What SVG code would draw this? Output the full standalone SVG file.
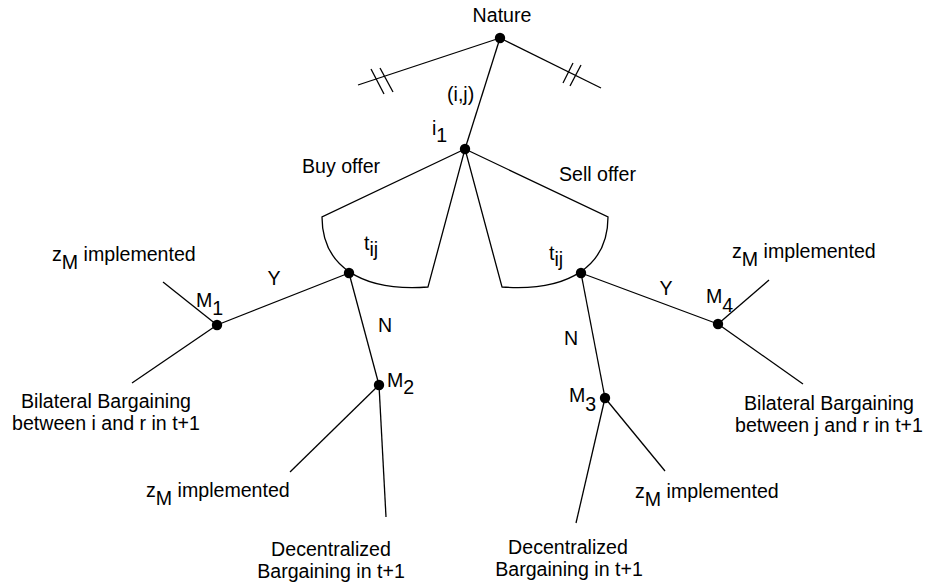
<svg xmlns="http://www.w3.org/2000/svg" width="927" height="584" viewBox="0 0 927 584">
<style>
  .ln { stroke: #000; stroke-width: 1.3; fill: none; }
  .dot { fill: #000; }
  text { font-family: "Liberation Sans", Arial, Helvetica, sans-serif; font-size: 19.6px; fill: #000; }
  .mid { text-anchor: middle; }
</style>
<rect width="927" height="584" fill="#fff"/>
<g id="connectors">
  <line class="ln" x1="500" y1="38" x2="358" y2="85"/>
  <line class="ln" x1="371" y1="69" x2="384" y2="94"/>
  <line class="ln" x1="380" y1="68" x2="393" y2="92"/>
  <line class="ln" x1="500" y1="38" x2="601" y2="88"/>
  <line class="ln" x1="563" y1="83" x2="573" y2="63"/>
  <line class="ln" x1="570" y1="86" x2="581" y2="65"/>
  <line class="ln" x1="500" y1="38" x2="465" y2="149"/>
  <path class="ln" d="M465,149 L322,217 C322,265 360,292 428,287 Z"/>
  <path class="ln" d="M465,149 L608,217 C608,265 570,292 502,287 Z"/>
  <line class="ln" x1="349" y1="273" x2="217" y2="325"/>
  <line class="ln" x1="349" y1="273" x2="379" y2="385"/>
  <line class="ln" x1="217" y1="325" x2="163" y2="282"/>
  <line class="ln" x1="217" y1="325" x2="132" y2="383"/>
  <line class="ln" x1="379" y1="385" x2="290" y2="472"/>
  <line class="ln" x1="379" y1="385" x2="386" y2="517"/>
  <line class="ln" x1="581" y1="273" x2="718" y2="324"/>
  <line class="ln" x1="581" y1="273" x2="605" y2="398"/>
  <line class="ln" x1="718" y1="324" x2="769" y2="280"/>
  <line class="ln" x1="718" y1="324" x2="803" y2="384"/>
  <line class="ln" x1="605" y1="398" x2="576" y2="523"/>
  <line class="ln" x1="605" y1="398" x2="665" y2="471"/>
</g>
<g id="labels">
  <text x="447" y="101">(i,j)</text>
  <text x="302" y="173">Buy offer</text>
  <text x="559" y="181">Sell offer</text>
  <text class="mid" x="274" y="285">Y</text>
  <text x="378" y="331.5">N</text>
  <text class="mid" x="666" y="295">Y</text>
  <text x="564" y="345">N</text>
</g>
<g id="nature">
  <circle class="dot" cx="500" cy="38" r="5.2"/>
  <text class="mid" x="502" y="22">Nature</text>
</g>
<g id="i1">
  <circle class="dot" cx="465" cy="149" r="5.2"/>
  <text x="432" y="135">i<tspan dy="7">1</tspan></text>
</g>
<g id="tij-left">
  <circle class="dot" cx="349" cy="273" r="5.2"/>
  <text x="364" y="250">t<tspan dy="6">ij</tspan></text>
</g>
<g id="tij-right">
  <circle class="dot" cx="581" cy="273" r="5.2"/>
  <text x="549" y="260">t<tspan dy="6">ij</tspan></text>
</g>
<g id="M1">
  <circle class="dot" cx="217" cy="325" r="5.2"/>
  <text x="196" y="306.5">M<tspan dy="8">1</tspan></text>
  <text x="52" y="261">z<tspan dy="8">M</tspan><tspan dy="-8"> implemented</tspan></text>
  <text class="mid" x="106" y="408">Bilateral Bargaining</text>
  <text class="mid" x="106" y="430">between i and r in t+1</text>
</g>
<g id="M2">
  <circle class="dot" cx="379" cy="385" r="5.2"/>
  <text x="387" y="386.5">M<tspan dy="7">2</tspan></text>
  <text x="146" y="497">z<tspan dy="8">M</tspan><tspan dy="-8"> implemented</tspan></text>
  <text class="mid" x="331" y="556">Decentralized</text>
  <text class="mid" x="331" y="578">Bargaining in t+1</text>
</g>
<g id="M3">
  <circle class="dot" cx="605" cy="398" r="5.2"/>
  <text x="569" y="402">M<tspan dy="9">3</tspan></text>
  <text x="635" y="498">z<tspan dy="8">M</tspan><tspan dy="-8"> implemented</tspan></text>
  <text class="mid" x="568" y="554">Decentralized</text>
  <text class="mid" x="569" y="576">Bargaining in t+1</text>
</g>
<g id="M4">
  <circle class="dot" cx="718" cy="324" r="5.2"/>
  <text x="706" y="303">M<tspan dy="9">4</tspan></text>
  <text x="732" y="258">z<tspan dy="8">M</tspan><tspan dy="-8"> implemented</tspan></text>
  <text class="mid" x="829" y="410">Bilateral Bargaining</text>
  <text class="mid" x="829" y="432">between j and r in t+1</text>
</g>
</svg>
